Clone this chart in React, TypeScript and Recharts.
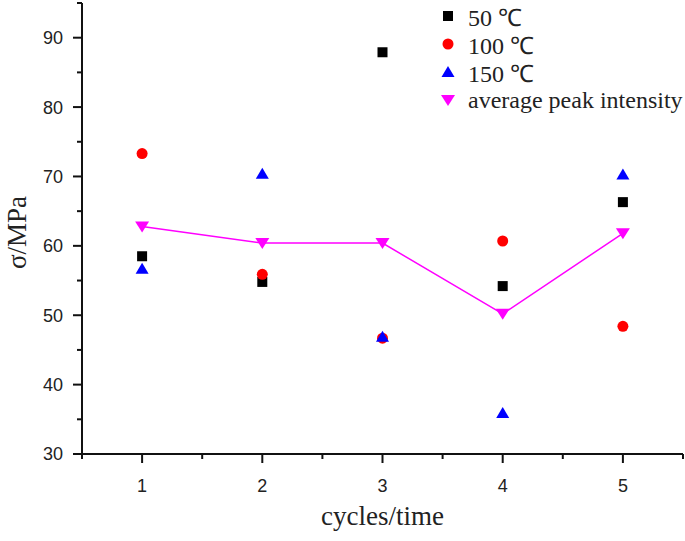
import { ScatterChart, Scatter, XAxis, YAxis } from "recharts"

// values (σ in MPa per cycle)
const cycles = [1, 2, 3, 4, 5]
const temp50 = [58.5, 54.8, 87.9, 54.2, 66.3]
const temp100 = [73.3, 55.9, 46.7, 60.7, 48.4]
const temp150 = [56.7, 70.4, 46.9, 35.9, 70.3]
const avgPeak = [62.8, 60.4, 60.4, 50.2, 61.8]

const xTicks = [0.5, 1, 1.5, 2, 2.5, 3, 3.5, 4, 4.5, 5, 5.5]
const yTicks = [30, 35, 40, 45, 50, 55, 60, 65, 70, 75, 80, 85, 90, 95]

const legendItems = [
  { label: "50 ℃", shape: "square", color: "#000000" },
  { label: "100 ℃", shape: "circle", color: "#ff0000" },
  { label: "150 ℃", shape: "up", color: "#0000ff" },
  { label: "average peak intensity", shape: "down", color: "#ff00ff" },
]

const toPoints = (ys: number[]) => cycles.map((c, i) => ({ x: c, y: ys[i] }))

const AXIS = "#111"
const TICK_TEXT = "#222"
const SERIF = "'Liberation Serif', 'Times New Roman', serif"
const SANS = "'Liberation Sans', Arial, sans-serif"

function Marker({ shape, color, cx, cy }: { shape: string; color: string; cx: number; cy: number }) {
  if (shape === "square") return <rect x={cx - 5} y={cy - 5} width={10} height={10} fill={color} />
  if (shape === "circle") return <circle cx={cx} cy={cy} r={5.5} fill={color} />
  if (shape === "up")
    return <polygon points={`${cx - 6.5},${cy + 5} ${cx + 6.5},${cy + 5} ${cx},${cy - 6}`} fill={color} />
  return <polygon points={`${cx - 7},${cy - 5} ${cx + 7},${cy - 5} ${cx},${cy + 6}`} fill={color} />
}

const shapeFor = (shape: string, color: string) => (p: any) =>
  <Marker shape={shape} color={color} cx={p.cx} cy={p.cy} />

function XTick(props: any) {
  const { x, y, payload } = props
  const major = Number.isInteger(payload.value)
  return (
    <g>
      <line x1={x} x2={x} y1={y} y2={y + (major ? 9 : 5)} stroke={AXIS} strokeWidth={2} />
      {major && (
        <text x={x} y={y + 38} textAnchor="middle" fontSize={18} fill={TICK_TEXT} fontFamily={SANS}>
          {payload.value}
        </text>
      )}
    </g>
  )
}

function YTick(props: any) {
  const { x, y, payload } = props
  const major = payload.value % 10 === 0
  return (
    <g>
      <line x1={x - (major ? 9 : 5)} x2={x} y1={y} y2={y} stroke={AXIS} strokeWidth={2} />
      {major && (
        <text x={x - 19} y={y} dy="0.36em" textAnchor="end" fontSize={18} fill={TICK_TEXT} fontFamily={SANS}>
          {payload.value}
        </text>
      )}
    </g>
  )
}

function ChartLegend() {
  return (
    <div style={{ position: "absolute", left: 438, top: 2, fontFamily: SERIF, fontSize: 24, color: "#222" }}>
      {legendItems.map((it) => (
        <div key={it.label} style={{ display: "flex", alignItems: "center", height: 28, whiteSpace: "nowrap" }}>
          <svg width={30} height={28}>
            <Marker shape={it.shape} color={it.color} cx={10} cy={14} />
          </svg>
          <span>{it.label}</span>
        </div>
      ))}
    </div>
  )
}

export default function App() {
  return (
    <div style={{ position: "absolute", left: 0, top: 0, width: 685, height: 541, background: "#fff" }}>
      <ScatterChart width={685} height={541} margin={{ top: 3, right: 2, left: 0, bottom: 0 }}>
        <XAxis
          type="number"
          dataKey="x"
          domain={[0.5, 5.5]}
          ticks={xTicks}
          interval={0}
          height={87}
          tickSize={0}
          tickMargin={0}
          tickLine={false}
          axisLine={{ stroke: AXIS, strokeWidth: 2 }}
          tick={<XTick />}
          label={{
            content: (p: any) => {
              const vb = p.viewBox
              return (
                <text x={vb.x + vb.width / 2} y={vb.y + 71} textAnchor="middle" fontSize={27} fill="#222" fontFamily={SERIF}>
                  cycles/time
                </text>
              )
            },
          }}
        />
        <YAxis
          type="number"
          dataKey="y"
          domain={[30, 95]}
          ticks={yTicks}
          interval={0}
          width={82}
          tickSize={0}
          tickMargin={0}
          tickLine={false}
          axisLine={{ stroke: AXIS, strokeWidth: 2 }}
          tick={<YTick />}
          label={{
            content: (p: any) => {
              const vb = p.viewBox
              const cy = vb.y + vb.height / 2 + 4
              return (
                <text x={17} y={cy} transform={`rotate(-90 17 ${cy})`} dy="0.35em" textAnchor="middle" fontSize={27} fill="#222" fontFamily={SERIF}>
                  σ/MPa
                </text>
              )
            },
          }}
        />
        <Scatter name="50 ℃" data={toPoints(temp50)} shape={shapeFor("square", "#000000")} isAnimationActive={false} />
        <Scatter name="100 ℃" data={toPoints(temp100)} shape={shapeFor("circle", "#ff0000")} isAnimationActive={false} />
        <Scatter name="150 ℃" data={toPoints(temp150)} shape={shapeFor("up", "#0000ff")} isAnimationActive={false} />
        <Scatter
          name="average peak intensity"
          data={toPoints(avgPeak)}
          line={{ stroke: "#ff00ff", strokeWidth: 1.5 }}
          lineJointType="linear"
          shape={shapeFor("down", "#ff00ff")}
          isAnimationActive={false}
        />
      </ScatterChart>
      <ChartLegend />
    </div>
  )
}
